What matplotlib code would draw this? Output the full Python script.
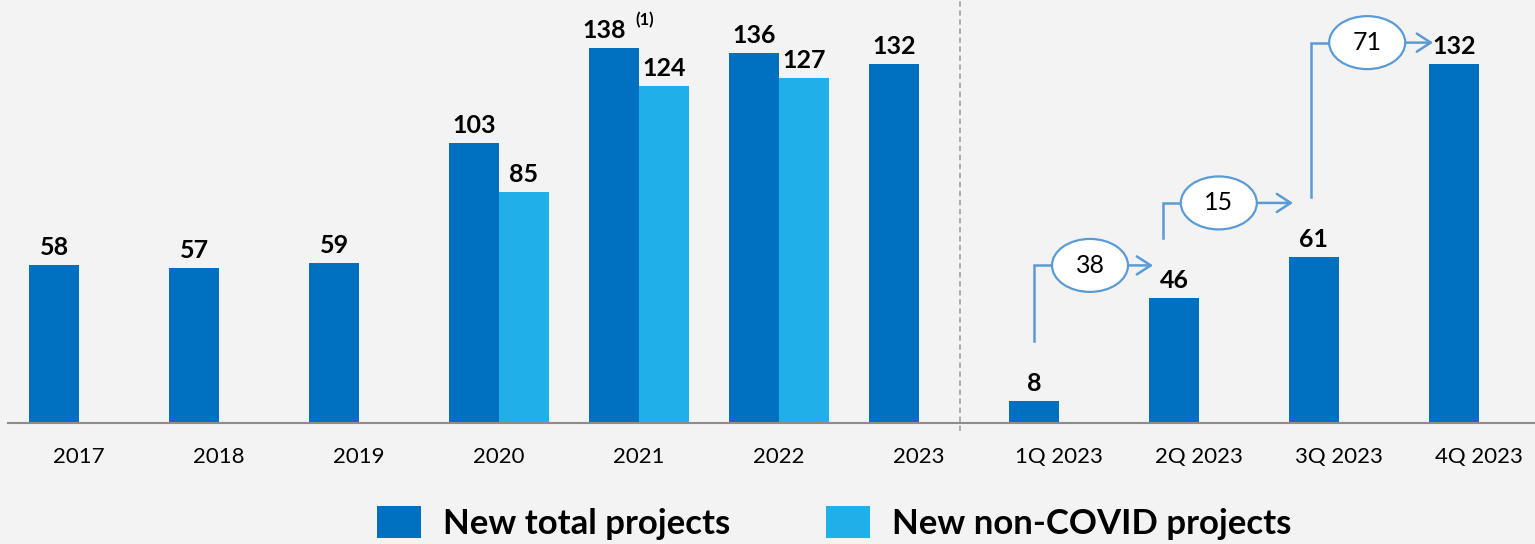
import numpy as np
import matplotlib.pyplot as plt
from matplotlib.patches import Ellipse, Patch

plt.rcParams['font.family'] = ['Lato', 'DejaVu Sans']

years = ['2017', '2018', '2019', '2020', '2021', '2022', '2023']
total_years = [58, 57, 59, 103, 138, 136, 132]
non_covid_years = [None, None, None, 85, 124, 127, None]
quarters = ['1Q 2023', '2Q 2023', '3Q 2023', '4Q 2023']
total_quarters = [8, 46, 61, 132]
quarter_adds = [38, 15, 71]
footnote = '(1)'
legend_labels = ['New total projects', 'New non-COVID projects']

DARK = '#0070c0'
LIGHT = '#1fb0ea'
BG = '#f3f3f3'
LINE = '#5b9bd5'

fig = plt.figure(figsize=(15.35, 5.44), dpi=100, facecolor=BG)
ax = fig.add_axes([8 / 1535, 121 / 544, 1527 / 1535, 423 / 544])
ax.set_facecolor(BG)

labels = years + quarters
totals = total_years + total_quarters
nonc = non_covid_years + [None] * len(quarters)
x = np.arange(len(labels))
w = 50 / 140

# bars
ax.bar(x - w / 2, totals, width=w, color=DARK, zorder=2)
xn = [xi + w / 2 for xi, v in zip(x, nonc) if v is not None]
vn = [v for v in nonc if v is not None]
ax.bar(xn, vn, width=w, color=LIGHT, zorder=2)

# value labels
lab_kw = dict(textcoords='offset points', ha='center', va='baseline',
              fontsize=18, fontweight='bold', color='black')
for xi, v in zip(x, totals):
    if v == max(total_years):
        ax.annotate(str(v), (xi - w / 2, v), xytext=(-7, 7.2), **lab_kw)
        ax.annotate(footnote, (xi - w / 2, v), xytext=(15.5, 16.5),
                    textcoords='offset points', ha='left', va='baseline',
                    fontsize=12, fontweight='bold')
    else:
        ax.annotate(str(v), (xi - w / 2, v), xytext=(0, 7.2), **lab_kw)
for xi, v in zip(xn, vn):
    ax.annotate(str(v), (xi, v), xytext=(0, 7.2), **lab_kw)

# quarterly step annotations
q0 = len(years)
conn_dx = [0.0, -0.08, -0.02]
arrow_y = [58, 81, 140]
ew, eh = 0.543, 19.5
for i, add in enumerate(quarter_adds):
    bx = x[q0 + i] - w / 2 + conn_dx[i]
    nx = x[q0 + i + 1] - w / 2
    y0 = total_quarters[i] + 22
    yy = arrow_y[i]
    ex = bx + 0.40
    ax.plot([bx, bx, ex - ew / 2], [y0, yy, yy], color=LINE, lw=1.8, zorder=3,
            solid_joinstyle='miter')
    ax.add_patch(Ellipse((ex, yy), ew, eh, facecolor='white', edgecolor=LINE,
                         lw=1.6, zorder=4))
    ax.text(ex, yy, str(add), ha='center', va='center', fontsize=18, zorder=5)
    ax.annotate('', xy=(nx - 0.15, yy), xytext=(ex + ew / 2, yy),
                arrowprops=dict(arrowstyle='->,head_length=1.0,head_width=0.65',
                                color=LINE, lw=1.8, shrinkA=0, shrinkB=0),
                zorder=3)

# separator
ax.axvline((960 - 79) / 140, ymin=-0.02, ymax=1, color='#a6a6a6', lw=1.3,
           ls=(0, (3, 2)), clip_on=False, zorder=1)

ax.set_xlim((8 - 79) / 140, (1535 - 79) / 140)
ax.set_ylim(0, 423 / 2.717)
ax.set_xticks(x)
ax.set_xticklabels(labels, fontsize=16)
ax.tick_params(axis='x', length=0, pad=17)
ax.set_yticks([])
for s in ['top', 'left', 'right']:
    ax.spines[s].set_visible(False)
ax.spines['bottom'].set_color('#8c8c8c')
ax.spines['bottom'].set_linewidth(1.5)

handles = [Patch(facecolor=DARK), Patch(facecolor=LIGHT)]
fig.legend(handles, legend_labels, loc='center', bbox_to_anchor=(834 / 1535, 21 / 544),
           ncol=2, frameon=False, prop=dict(size=25, weight='bold'),
           handlelength=1.27, handleheight=1.04, handletextpad=0.63,
           columnspacing=2.77, borderpad=0, borderaxespad=0)

fig.savefig('out.png', dpi=100, facecolor=BG)
